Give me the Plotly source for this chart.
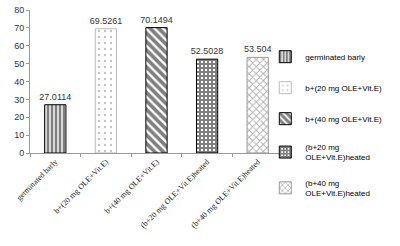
import plotly.graph_objects as go

categories = ["germinated barly", "b+(20 mg OLE+Vit.E)", "b+(40 mg OLE+Vit.E)",
              "(b+20 mg OLE+Vit.E)heated", "(b+40 mg OLE+Vit.E)heated"]
legend_names = ["germinated barly", "b+(20 mg OLE+Vit.E)", "b+(40 mg OLE+Vit.E)",
                "(b+20 mg<br>OLE+Vit.E)heated", "(b+40 mg<br>OLE+Vit.E)heated"]
values = [27.0114, 69.5261, 70.1494, 52.5028, 53.504]
labels = ["27.0114", "69.5261", "70.1494", "52.5028", "53.504"]
y_ticks = [0, 10, 20, 30, 40, 50, 60, 70, 80]

patterns = [
    dict(shape="|", fgcolor="black", bgcolor="white", size=4, solidity=0.65),
    dict(shape=".", fgcolor="#888888", bgcolor="white", size=6, solidity=0.12),
    dict(shape="\\", fgcolor="black", bgcolor="white", size=6, solidity=0.62),
    dict(shape="+", fgcolor="black", bgcolor="white", size=4, solidity=0.75),
    dict(shape="x", fgcolor="#666666", bgcolor="white", size=5, solidity=0.35),
]
borders = ["black", "#bbbbbb", "black", "black", "#999999"]

fig = go.Figure()
for i in range(len(categories)):
    fig.add_trace(go.Bar(
        x=[categories[i]], y=[values[i]], name=legend_names[i],
        text=[labels[i]], textposition="outside", constraintext="none",
        textfont=dict(family="Liberation Sans", size=9, color="#333333"),
        marker=dict(color="white", pattern=patterns[i],
                    line=dict(color=borders[i], width=1)),
        width=0.42, cliponaxis=False, legendgroup=str(i),
    ))

fig.update_layout(
    width=400, height=246, barmode="overlay",
    margin=dict(l=30, r=117, t=10, b=93),
    paper_bgcolor="white", plot_bgcolor="white",
    legend=dict(x=0.93, y=0.775, xanchor="left", yanchor="top",
                bgcolor="rgba(0,0,0,0)", maxheight=240,
                font=dict(family="Liberation Sans", size=8, color="black"),
                tracegroupgap=12, itemwidth=30, traceorder="grouped"),
    xaxis=dict(showline=True, linecolor="#999999", linewidth=1, automargin=False,
               ticks="outside", ticklen=3, tickcolor="#999999", tickson="boundaries",
               tickangle=-45, showgrid=False,
               tickfont=dict(family="Liberation Serif", size=8, color="#222222")),
    yaxis=dict(range=[0, 80], tickvals=y_ticks, showline=True, linecolor="#999999",
               linewidth=1, ticks="outside", ticklen=3, tickcolor="#999999",
               showgrid=False, zeroline=False, automargin=False,
               tickfont=dict(family="Liberation Sans", size=9, color="#333333")),
)

fig.write_html("out.html", config={"displayModeBar": False},
               post_script="document.body.style.margin='0';document.body.style.padding='0';")
